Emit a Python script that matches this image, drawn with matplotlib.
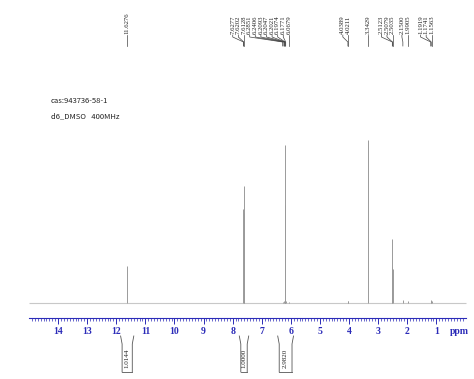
import numpy as np
import matplotlib.pyplot as plt

# peak list (ppm) and relative heights
peak_ppm = [11.6276, 7.6277, 7.6202, 7.6128, 6.2851, 6.2406, 6.2093, 6.2047,
            6.2021, 6.1974, 6.1771, 6.0679, 4.0389, 4.0211, 3.3429,
            2.5123, 2.5079, 2.5035, 2.1500, 1.9905, 1.1919, 1.1741, 1.1563]
peak_height = [23, 58, 72, 55, 0.6, 1.5, 50, 97, 60, 25, 1.5, 0.6, 1.0, 1.0, 100,
               22, 39, 21, 2.0, 1.5, 1.2, 2.0, 1.2]

# integral regions
int_from = [11.80, 7.72, 6.40]
int_to = [11.45, 7.50, 5.96]
int_value = ['1.0144', '1.0000', '2.9820']

ppm_ticks = list(range(14, 0, -1))
info_lines = ['cas:943736-58-1', 'd6_DMSO   400MHz']

W, H = 474, 379
XLIM = (15.0, -0.02)
blue = '#2b2bb8'
grey = '#9a9a9a'
px_per_ppm = 29.1

fig = plt.figure(figsize=(W / 100, H / 100), dpi=100)

# spectrum
ax = fig.add_axes([29 / W, (H - 303) / H, 437 / W, 303 / H])
ax.set_xlim(*XLIM)
ax.set_ylim(0, 186)
ax.axis('off')
ax.hlines(0, XLIM[0], XLIM[1], color='#c8c8c8', lw=0.8, clip_on=False)
ax.vlines(peak_ppm, 0, peak_height, color=grey, lw=0.7, clip_on=False)

# ppm scale
sc = fig.add_axes([29 / W, (H - 318) / H, 437 / W, 0.0001])
sc.set_xlim(*XLIM)
sc.set_yticks([])
for s in ['top', 'left', 'right']:
    sc.spines[s].set_visible(False)
sc.spines['bottom'].set_color(blue)
sc.spines['bottom'].set_linewidth(0.8)
sc.set_xticks(ppm_ticks)
sc.set_xticks(np.arange(0.1, 15.0, 0.1), minor=True)
sc.tick_params(axis='x', which='major', length=4, width=0.7, color=blue,
               pad=2.5, labelsize=7, labelcolor=blue)
sc.tick_params(axis='x', which='minor', length=2, width=0.5, color=blue)
for t in sc.get_xticklabels():
    t.set_fontfamily('Liberation Serif')
    t.set_fontweight('bold')
fig.text(459.5 / W, 1 - 331 / H, 'ppm', ha='center', va='center', color=blue,
         fontsize=7, fontfamily='Liberation Serif', fontweight='bold')

# annotation layer in pixel rows
an = fig.add_axes([29 / W, 0, 437 / W, 1])
an.set_xlim(*XLIM)
an.set_ylim(H, 0)
an.axis('off')

# push labels leftwards so they do not overlap
gap = 5.6 / px_per_ppm
order = np.argsort(peak_ppm)
label_pos = [0.0] * len(peak_ppm)
prev = None
for i in order:
    p = peak_ppm[i]
    if prev is not None and p < prev + gap:
        p = prev + gap
    label_pos[i] = p
    prev = p

for p, lp in zip(peak_ppm, label_pos):
    an.text(lp, 34, '%.4f' % p, rotation=90, ha='center', va='bottom',
            fontsize=4.9, color='#222222', fontfamily='Liberation Serif',
            linespacing=1.0)
    an.plot([lp, lp, p, p], [35, 37, 42, 46], color='#444444', lw=0.5)

# integral brackets
d = 1.5 / px_per_ppm
for a, b, v in zip(int_from, int_to, int_value):
    an.plot([a + d, a, a], [336, 344, 372], color='#555555', lw=0.6)
    an.plot([b - d, b, b], [336, 344, 372], color='#555555', lw=0.6)
    an.plot([a, b], [372, 372], color='#555555', lw=0.6)
    an.text((a + b) / 2, 358, v, rotation=90, ha='center', va='center',
            fontsize=5, color='#222222', fontfamily='Liberation Serif')

fig.text(51 / W, 1 - 101 / H, info_lines[0], ha='left', va='center',
         fontsize=5.5, color='#222222', fontfamily=['Noto Sans CJK SC', 'DejaVu Sans'])
fig.text(51 / W, 1 - 116 / H, info_lines[1], ha='left', va='center',
         fontsize=5.5, color='#222222', fontfamily=['Noto Sans CJK SC', 'DejaVu Sans'])

fig.savefig('out.png', dpi=100)
